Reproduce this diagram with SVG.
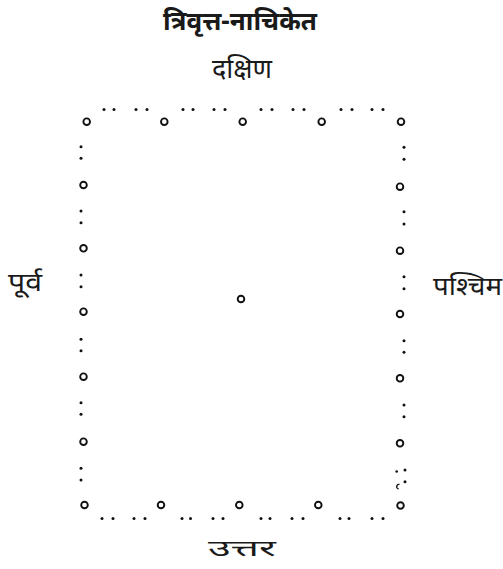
<svg xmlns="http://www.w3.org/2000/svg" width="503" height="569" viewBox="0 0 503 569">
<style>
.c{fill:none;stroke:#111;stroke-width:1.9}
.d{fill:#111}
.t{font-family:"Noto Sans","Noto Sans Devanagari","Lohit Devanagari",sans-serif;fill:#1a1a1a;text-anchor:middle}
</style>
<rect width="503" height="569" fill="#fff"/>
<g id="labels">
<text class="t" x="240" y="30" font-size="26" font-weight="bold" textLength="154" lengthAdjust="spacingAndGlyphs">त्रिवृत्त-नाचिकेत</text>
<text class="t" x="242" y="78" font-size="27" textLength="60" lengthAdjust="spacingAndGlyphs">दक्षिण</text>
<text class="t" x="242" y="556" font-size="23" textLength="68" lengthAdjust="spacingAndGlyphs">उत्तर</text>
<text class="t" x="25" y="291" font-size="25" textLength="34" lengthAdjust="spacingAndGlyphs">पूर्व</text>
<text class="t" x="467.5" y="295" font-size="26" textLength="69" lengthAdjust="spacingAndGlyphs">पश्चिम</text>
</g>
<g id="connectors">
<g id="top-dots" class="d">
<circle cx="104" cy="109.5" r="1.5"/><circle cx="114" cy="109.5" r="1.5"/><circle cx="136" cy="109.5" r="1.5"/><circle cx="147" cy="109.5" r="1.5"/>
<circle cx="183" cy="109.5" r="1.5"/><circle cx="193" cy="109.5" r="1.5"/><circle cx="214" cy="109.5" r="1.5"/><circle cx="225" cy="109.5" r="1.5"/>
<circle cx="261" cy="109.5" r="1.5"/><circle cx="272" cy="109.5" r="1.5"/><circle cx="293" cy="109.5" r="1.5"/><circle cx="304" cy="109.5" r="1.5"/>
<circle cx="341" cy="109.5" r="1.5"/><circle cx="352" cy="109.5" r="1.5"/><circle cx="372" cy="109.5" r="1.5"/><circle cx="383" cy="109.5" r="1.5"/>
</g>
<g id="bottom-dots" class="d">
<circle cx="102" cy="518.5" r="1.5"/><circle cx="113" cy="518.5" r="1.5"/><circle cx="134" cy="518.5" r="1.5"/><circle cx="145" cy="518.5" r="1.5"/>
<circle cx="182" cy="518.5" r="1.5"/><circle cx="190.5" cy="518.5" r="1.5"/><circle cx="213" cy="518.5" r="1.5"/><circle cx="223" cy="518.5" r="1.5"/>
<circle cx="261" cy="518.5" r="1.5"/><circle cx="270" cy="518.5" r="1.5"/><circle cx="292" cy="518.5" r="1.5"/><circle cx="303" cy="518.5" r="1.5"/>
<circle cx="340" cy="518.5" r="1.5"/><circle cx="349" cy="518.5" r="1.5"/><circle cx="372" cy="518.5" r="1.5"/><circle cx="383" cy="518.5" r="1.5"/>
</g>
<g id="left-dots" class="d">
<circle cx="81" cy="146.7" r="1.5"/><circle cx="81" cy="158.3" r="1.5"/>
<circle cx="81" cy="211" r="1.5"/><circle cx="81" cy="222.7" r="1.5"/>
<circle cx="81" cy="275" r="1.5"/><circle cx="81" cy="286.7" r="1.5"/>
<circle cx="81" cy="339.3" r="1.5"/><circle cx="81" cy="350.7" r="1.5"/>
<circle cx="81" cy="402.7" r="1.5"/><circle cx="81" cy="414.3" r="1.5"/>
<circle cx="81" cy="468.3" r="1.5"/><circle cx="81" cy="480" r="1.5"/>
</g>
<g id="right-dots" class="d">
<circle cx="404" cy="147.3" r="1.5"/><circle cx="404" cy="159.3" r="1.5"/>
<circle cx="404" cy="211.7" r="1.5"/><circle cx="404" cy="224" r="1.5"/>
<circle cx="404" cy="276.7" r="1.5"/><circle cx="404" cy="288.7" r="1.5"/>
<circle cx="404" cy="340.7" r="1.5"/><circle cx="404" cy="352.3" r="1.5"/>
<circle cx="404" cy="405" r="1.5"/><circle cx="404" cy="416.7" r="1.5"/>
<circle cx="405" cy="470" r="1.5"/><circle cx="405" cy="481.7" r="1.5"/>
<circle cx="396.7" cy="471.5" r="1.3"/>
<path d="M399.5 484.5 A2.2 2.2 0 0 0 398.5 489" fill="none" stroke="#111" stroke-width="1.4"/>
</g>
</g>
<g id="nodes">
<g id="n-top-0"><circle class="c" cx="86.7" cy="121.7" r="3.3"/></g>
<g id="n-top-1"><circle class="c" cx="164.3" cy="121.7" r="3.3"/></g>
<g id="n-top-2"><circle class="c" cx="242.7" cy="121.7" r="3.3"/></g>
<g id="n-top-3"><circle class="c" cx="321.7" cy="121.7" r="3.3"/></g>
<g id="n-top-4"><circle class="c" cx="401" cy="121.7" r="3.3"/></g>
<g id="n-left-1"><circle class="c" cx="83.5" cy="185" r="3.3"/></g>
<g id="n-left-2"><circle class="c" cx="83.5" cy="248.3" r="3.3"/></g>
<g id="n-left-3"><circle class="c" cx="83.5" cy="311.7" r="3.3"/></g>
<g id="n-left-4"><circle class="c" cx="83.5" cy="376.7" r="3.3"/></g>
<g id="n-left-5"><circle class="c" cx="83.5" cy="441.7" r="3.3"/></g>
<g id="n-right-1"><circle class="c" cx="400" cy="186.7" r="3.3"/></g>
<g id="n-right-2"><circle class="c" cx="400" cy="250.7" r="3.3"/></g>
<g id="n-right-3"><circle class="c" cx="400" cy="314" r="3.3"/></g>
<g id="n-right-4"><circle class="c" cx="400" cy="378.3" r="3.3"/></g>
<g id="n-right-5"><circle class="c" cx="400" cy="443.3" r="3.3"/></g>
<g id="n-bottom-0"><circle class="c" cx="84.5" cy="505" r="3.3"/></g>
<g id="n-bottom-1"><circle class="c" cx="161" cy="505" r="3.3"/></g>
<g id="n-bottom-2"><circle class="c" cx="239.3" cy="505" r="3.3"/></g>
<g id="n-bottom-3"><circle class="c" cx="318.3" cy="505" r="3.3"/></g>
<g id="n-bottom-4"><circle class="c" cx="400.5" cy="505.5" r="3.3"/></g>
<g id="n-center"><circle class="c" cx="241" cy="299" r="3.3"/></g>
</g>
</svg>
